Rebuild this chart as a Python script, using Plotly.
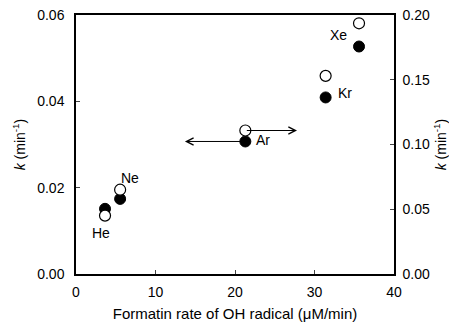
import plotly.graph_objects as go

gases = ["He", "Ne", "Ar", "Kr", "Xe"]
oh_rate = [3.65, 5.55, 21.3, 31.4, 35.6]
k_filled = [0.0151, 0.0174, 0.0307, 0.0409, 0.0527]   # left axis
k_open = [0.0451, 0.0651, 0.1108, 0.153, 0.1936]      # right axis

# arrow tips (x) for the Ar point
arrow_left_x = 13.7
arrow_right_x = 27.8

x_ticks = [0, 10, 20, 30, 40]
y1_ticks = [0.00, 0.02, 0.04, 0.06]
y2_ticks = [0.00, 0.05, 0.10, 0.15, 0.20]

# label pixel offsets (anchor series, dx, dy)
label_offsets = {
    "He": ("open", -4, -17),
    "Ne": ("open", 10, 12),
    "Ar": ("filled", 18, 1),
    "Kr": ("filled", 19, 4),
    "Xe": ("filled", -21, 12),
}

font = "Liberation Sans, Arial, sans-serif"

fig = go.Figure()
fig.add_trace(go.Scatter(
    x=oh_rate, y=k_filled, mode="markers", yaxis="y",
    marker=dict(symbol="circle", size=11, color="black", line=dict(color="black", width=1)),
    showlegend=False))
fig.add_trace(go.Scatter(
    x=oh_rate, y=k_open, mode="markers", yaxis="y2",
    marker=dict(symbol="circle", size=11, color="white", line=dict(color="black", width=1.2)),
    showlegend=False))

anns = []
for i, g in enumerate(gases):
    which, dx, dy = label_offsets[g]
    if which == "filled":
        anns.append(dict(x=oh_rate[i], y=k_filled[i], xref="x", yref="y", text=g,
                         showarrow=False, xshift=dx, yshift=dy,
                         font=dict(family=font, size=14, color="black")))
    else:
        anns.append(dict(x=oh_rate[i], y=k_open[i], xref="x", yref="y2", text=g,
                         showarrow=False, xshift=dx, yshift=dy,
                         font=dict(family=font, size=14, color="black")))

ar = gases.index("Ar")
anns.append(dict(x=arrow_left_x, y=k_filled[ar], xref="x", yref="y",
                 ax=oh_rate[ar], ay=k_filled[ar], axref="x", ayref="y",
                 showarrow=True, arrowhead=5, arrowsize=1.4, arrowwidth=1, arrowcolor="black",
                 text=""))
anns.append(dict(x=arrow_right_x, y=k_open[ar], xref="x", yref="y2",
                 ax=oh_rate[ar], ay=k_open[ar], axref="x", ayref="y2",
                 showarrow=True, arrowhead=5, arrowsize=1.4, arrowwidth=1, arrowcolor="black",
                 text=""))

fig.update_layout(
    width=449, height=336,
    margin=dict(l=76, r=55, t=15, b=62, autoexpand=False),
    paper_bgcolor="white", plot_bgcolor="white",
    font=dict(family=font, size=14, color="black"),
    xaxis=dict(range=[0, 40], tickvals=x_ticks, ticks="inside", ticklen=4,
               ticklabelstandoff=4, automargin=False,
               showline=True, linecolor="black", linewidth=1.5, mirror=True,
               showgrid=False, zeroline=False,
               title=dict(text="Formatin rate of OH radical (μM/min)", standoff=10,
                          font=dict(size=15))),
    yaxis=dict(range=[0, 0.06], tickvals=y1_ticks, tickformat=".2f", ticks="inside", ticklen=4,
               ticklabelstandoff=7, automargin=False,
               showline=True, linecolor="black", linewidth=1.5,
               showgrid=False, zeroline=False,
               title=dict(text="<i>k</i> (min<sup>-1</sup>)", standoff=8, font=dict(size=14))),
    yaxis2=dict(range=[0, 0.20], tickvals=y2_ticks, tickformat=".2f", ticks="inside", ticklen=4,
                ticklabelstandoff=4, automargin=False,
                overlaying="y", side="right",
                showline=True, linecolor="black", linewidth=1.5,
                showgrid=False, zeroline=False,
                title=dict(text="<i>k</i> (min<sup>-1</sup>)", standoff=8, font=dict(size=14))),
    annotations=anns,
)

fig.write_html("out.html")
